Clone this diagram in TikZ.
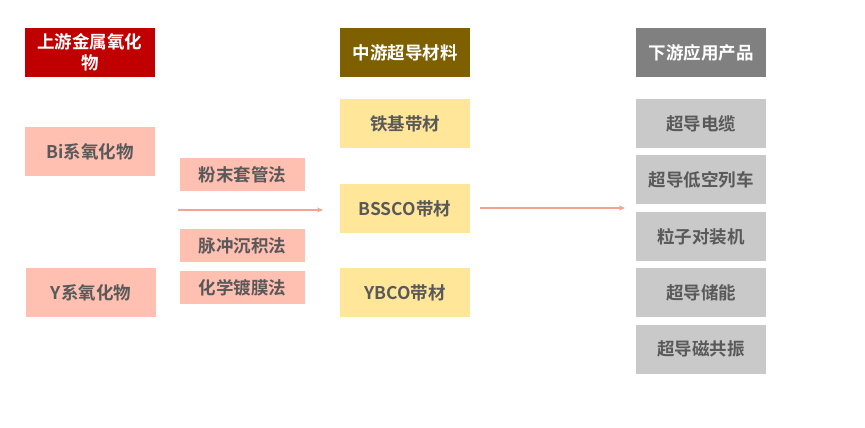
\documentclass[tikz,border=0pt]{standalone}
\usepackage{fontspec}
\setmainfont{Noto Sans CJK SC}[BoldFont={* Bold}]
\usetikzlibrary{arrows.meta}
\definecolor{hdrred}{HTML}{C00000}
\definecolor{hdrbrown}{HTML}{7F6000}
\definecolor{hdrgray}{HTML}{808080}
\definecolor{salmon}{HTML}{FFBFB1}
\definecolor{lightyellow}{HTML}{FFE699}
\definecolor{lightgray}{HTML}{C9C9C9}
\definecolor{txtgray}{HTML}{595959}
\definecolor{arrowc}{HTML}{F4A292}
\begin{document}
\begin{tikzpicture}[x=1pt,y=-1pt,
  box/.style={draw=none,inner sep=0pt,align=center,font=\fontsize{17.5}{21}\selectfont\bfseries},
  hdr/.style={box,text=white},
  item/.style={box,text=txtgray},
  flow/.style={draw=arrowc,line width=1.3pt,-{Stealth[length=6pt,width=5pt]}}]
\useasboundingbox (0,0) rectangle (865,428);
% headers
\node[hdr,fill=hdrred,minimum width=130pt,minimum height=49pt] (h1) at (90,52.5) {上游金属氧化\\物};
\node[hdr,fill=hdrbrown,minimum width=130pt,minimum height=49pt] (h2) at (405,52.5) {中游超导材料};
\node[hdr,fill=hdrgray,minimum width=130pt,minimum height=49pt] (h3) at (701,52.5) {下游应用产品};
% upstream
\node[item,fill=salmon,minimum width=130pt,minimum height=49pt] (bi) at (90,151.5) {Bi系氧化物};
\node[item,fill=salmon,minimum width=130pt,minimum height=49pt] (y) at (91,292.5) {Y系氧化物};
% methods
\node[item,fill=salmon,minimum width=125pt,minimum height=33pt] (m1) at (242.5,174.5) {粉末套管法};
\node[item,fill=salmon,minimum width=125pt,minimum height=33pt] (m2) at (242.5,245.5) {脉冲沉积法};
\node[item,fill=salmon,minimum width=125pt,minimum height=33pt] (m3) at (242.5,287.5) {化学镀膜法};
% midstream
\node[item,fill=lightyellow,minimum width=130pt,minimum height=49pt] (fe) at (405,123.5) {铁基带材};
\node[item,fill=lightyellow,minimum width=130pt,minimum height=49pt] (bs) at (405,208.5) {BSSCO带材};
\node[item,fill=lightyellow,minimum width=130pt,minimum height=49pt] (yb) at (405,292.5) {YBCO带材};
% downstream
\node[item,fill=lightgray,minimum width=130pt,minimum height=49pt] (p1) at (701,123.5) {超导电缆};
\node[item,fill=lightgray,minimum width=130pt,minimum height=49pt] (p2) at (701,179.5) {超导低空列车};
\node[item,fill=lightgray,minimum width=130pt,minimum height=49pt] (p3) at (701,236.5) {粒子对装机};
\node[item,fill=lightgray,minimum width=130pt,minimum height=49pt] (p4) at (701,292.5) {超导储能};
\node[item,fill=lightgray,minimum width=130pt,minimum height=49pt] (p5) at (701,349) {超导磁共振};
% arrows
\coordinate (a1s) at (178,210);
\coordinate (a1e) at (323,210);
\draw[flow] (a1s) -- (a1e);
\coordinate (a2s) at (480,208);
\coordinate (a2e) at (625,208);
\draw[flow] (a2s) -- (a2e);
\end{tikzpicture}
\end{document}
